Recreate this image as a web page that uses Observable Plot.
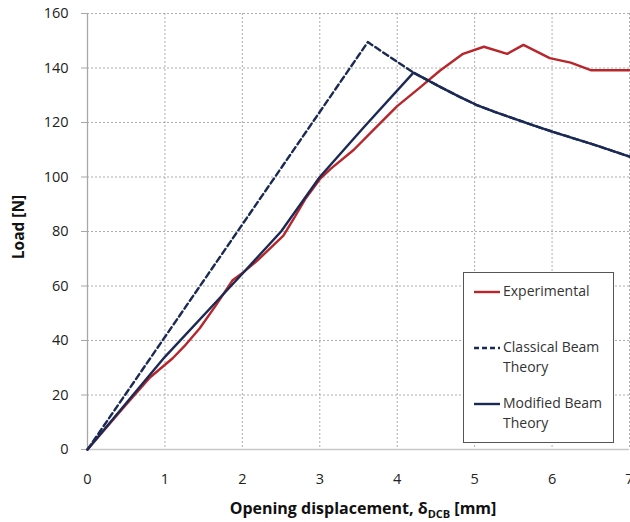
<!DOCTYPE html>
<html>
<head>
<meta charset="utf-8">
<script src="https://cdn.jsdelivr.net/npm/d3@7"></script>
<script src="https://cdn.jsdelivr.net/npm/@observablehq/plot@0.6"></script>
<style>
  html, body { margin: 0; padding: 0; background: #fff; }
  #wrap { position: relative; width: 630px; height: 522px; overflow: hidden; font-family: "Open Sans", sans-serif; }
  #legend { position: absolute; left: 463px; top: 272px; width: 149px; height: 169px; border: 1px solid #555; background: #fff; font-size: 14px; color: #333; }
  .entry { position: absolute; left: 10px; display: flex; align-items: flex-start; }
  .entry svg { flex: none; margin-top: 9px; margin-right: 3px; }
  .entry span { line-height: 20px; }
</style>
</head>
<body>
<div id="wrap"></div>
<script>
// ---- data ----
const expX = [0, 0.5, 0.81, 1.1, 1.27, 1.45, 1.66, 1.87, 2.01, 2.2, 2.53, 2.66, 2.81, 3.0, 3.14, 3.44, 3.7, 4.0, 4.3, 4.55, 4.85, 5.12, 5.42, 5.63, 5.97, 6.24, 6.5, 7.0];
const expY = [0, 16.5, 26.5, 33.5, 38.5, 44.5, 53, 62, 65, 69.5, 78.5, 84.5, 91.8, 99.2, 103, 110, 117.5, 126, 133, 139, 145.2, 147.8, 145.2, 148.5, 143.6, 142, 139.2, 139.2];

const modX = [0, 1, 2, 2.5, 3, 3.56, 4.21, 4.56, 4.8, 5.02, 5.25, 5.5, 5.75, 6.02, 6.3, 6.58, 7];
const modY = [0, 34, 64.5, 80, 100, 118, 138.3, 133, 129.5, 126.5, 124, 121.5, 119, 116.5, 114, 111.5, 107.5];

const clsX = [0, 3.62, 4.21, 4.56, 4.8, 5.02, 5.25, 5.5, 5.75, 6.02, 6.3, 6.58, 7];
const clsY = [0, 149.5, 138.3, 133, 129.5, 126.5, 124, 121.5, 119, 116.5, 114, 111.5, 107.5];

const xTicks = [0, 1, 2, 3, 4, 5, 6, 7];
const yTicks = [0, 20, 40, 60, 80, 100, 120, 140, 160];

const seriesNames = ["Experimental", "Classical Beam Theory", "Modified Beam Theory"];
const seriesColors = ["#b8262c", "#1b2a55", "#1b2a55"];

const toRows = (xs, ys) => xs.map((x, i) => ({x, y: ys[i]}));
const expData = toRows(expX, expY);
const modData = toRows(modX, modY);
const clsData = toRows(clsX, clsY);

const fontFamily = '"Open Sans", sans-serif';

const plot = Plot.plot({
  width: 630,
  height: 522,
  marginLeft: 87,
  marginRight: 1,
  marginTop: 13,
  marginBottom: 73,
  style: {fontFamily, fontSize: "14.5px", color: "#333", background: "#fff"},
  x: {domain: [0, 7], ticks: xTicks, label: null},
  y: {domain: [0, 160], ticks: yTicks, label: null},
  marks: [
    Plot.gridX(xTicks.filter(d => d > 0), {stroke: "#999", strokeOpacity: 1, strokeDasharray: "2,2", strokeWidth: 0.8}),
    Plot.gridY(yTicks.filter(d => d > 0), {stroke: "#999", strokeOpacity: 1, strokeDasharray: "2,2", strokeWidth: 0.8}),
    Plot.ruleY([0], {stroke: "#c8c8c8", strokeWidth: 1.3}),
    Plot.ruleX([0], {stroke: "#a8a8a8", strokeWidth: 1.3}),
    Plot.axisX({ticks: xTicks, tickFormat: d3.format("d"), tickSize: 0, tickPadding: 24, label: null, fill: "#222"}),
    Plot.axisY({ticks: yTicks, tickFormat: d3.format("d"), tickSize: 6, tickPadding: 13, label: null, stroke: "#a8a8a8", fill: "#222"}),
    Plot.line(expData, {x: "x", y: "y", stroke: seriesColors[0], strokeWidth: 2.4}),
    Plot.line(clsData, {x: "x", y: "y", stroke: seriesColors[1], strokeWidth: 2.4, strokeDasharray: "6,3.5"}),
    Plot.line(modData, {x: "x", y: "y", stroke: seriesColors[2], strokeWidth: 2.4})
  ]
});

const wrap = document.getElementById("wrap");
wrap.appendChild(plot);

// Axis titles (x title needs a subscript, so build with tspans)
const svg = d3.select(plot);
const sx = plot.scale("x"), sy = plot.scale("y");
const xMid = (sx.range[0] + sx.range[1]) / 2;
const yMid = (sy.range[0] + sy.range[1]) / 2;

const xt = svg.append("text")
  .attr("x", xMid + 5).attr("y", 514)
  .attr("text-anchor", "middle")
  .attr("font-family", fontFamily)
  .attr("font-weight", "bold").attr("font-size", 16).attr("fill", "#111");
xt.append("tspan").text("Opening displacement, δ");
xt.append("tspan").attr("font-size", 11).attr("dy", 4).text("DCB");
xt.append("tspan").attr("dy", -4).text(" [mm]");

svg.append("text")
  .attr("transform", `translate(24,${yMid - 4}) rotate(-90)`)
  .attr("text-anchor", "middle")
  .attr("font-family", fontFamily)
  .attr("font-weight", "bold").attr("font-size", 15.5).attr("fill", "#111")
  .text("Load [N]");

// Legend (HTML overlay inside the plot area, like the reference)
const legend = document.createElement("div");
legend.id = "legend";
const entryTops = [8, 64, 120];
const dashes = [null, "5,3", null];
const lines = [["Experimental"], ["Classical Beam", "Theory"], ["Modified Beam", "Theory"]];
seriesNames.forEach((name, i) => {
  const e = document.createElement("div");
  e.className = "entry";
  e.style.top = entryTops[i] + "px";
  const sw = `<svg width="26" height="4"><line x1="0" x2="26" y1="2" y2="2" stroke="${seriesColors[i]}" stroke-width="2.4" ${dashes[i] ? `stroke-dasharray="${dashes[i]}"` : ""}/></svg>`;
  e.innerHTML = sw + `<span>${lines[i].join("<br>")}</span>`;
  legend.appendChild(e);
});
wrap.appendChild(legend);
</script>
</body>
</html>
